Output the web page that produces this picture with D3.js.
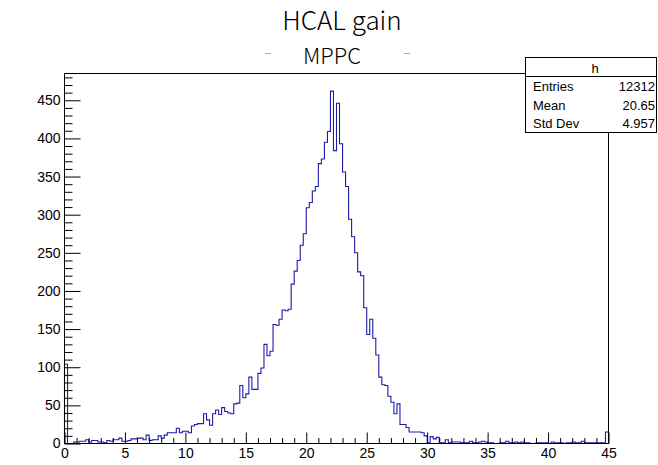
<!DOCTYPE html>
<html>
<head>
<meta charset="utf-8">
<script src="https://cdn.jsdelivr.net/npm/d3@7"></script>
<style>
  html, body { margin: 0; padding: 0; background: #fff; }
  svg { display: block; }
</style>
</head>
<body>
<svg id="chart" width="658" height="465"></svg>
<script>
// Histogram "h": 180 bins of width 0.25 on [0, 45]
const xMin = 0;
const xMax = 45;
const binWidth = 0.25;

// bin contents, low edge 0.00 ... 10.75
const countsLow = [
  104, 0, 0, 2, 2, 3, 3, 5, 2, 4,
  4, 2, 2, 1, 4, 3, 5, 5, 7, 3,
  3, 4, 6, 6, 7, 7, 5, 11, 4, 5,
  5, 10, 7, 11, 14, 14, 14, 20, 14, 16,
  16, 14, 23, 25, 26
];
// bin contents, low edge 11.25 ... 27.50
const countsPeak = [
  26, 39, 31, 24, 39, 44, 38, 47, 42, 40,
  39, 52, 53, 76, 60, 65, 87, 71, 71, 92,
  99, 130, 115, 121, 156, 155, 163, 175, 174, 176,
  209, 226, 240, 260, 275, 309, 316, 331, 337, 367,
  373, 395, 409, 462, 384, 446, 393, 356, 337, 294,
  271, 250, 225, 220, 178, 143, 163, 138, 116, 87,
  77, 76, 62, 54, 39, 52
];
// bin contents, low edge 27.75 ... 44.75
const countsHigh = [
  25, 25, 21, 15, 15, 15, 15, 14, 10, 1,
  9, 6, 8, 1, 1, 5, 1, 2, 2, 2,
  1, 1, 1, 3, 1, 1, 2, 3, 2, 1,
  1, 0, 0, 1, 1, 3, 1, 1, 2, 1,
  2, 1, 1, 0, 0, 1, 1, 1, 1, 0,
  2, 1, 1, 1, 0, 1, 1, 2, 1, 1,
  3, 1, 1, 1, 1, 1, 1, 1, 15
];
const counts = countsLow.concat(countsPeak, countsHigh);

const xTicks = [0, 5, 10, 15, 20, 25, 30, 35, 40, 45];
const yTicks = [0, 50, 100, 150, 200, 250, 300, 350, 400, 450];

const titleText = "HCAL gain";
const subtitleText = "MPPC";
const statsName = "h";
const statsLabels = ["Entries", "Mean", "Std Dev"];
const statsValues = ["12312", "20.65", "4.957"];

// ---- layout ----
const svg = d3.select("#chart");
const frame = { left: 64.5, right: 608.5, top: 73.5, bottom: 443.5 };
const yMax = d3.max(counts) * 1.05;

const x = d3.scaleLinear().domain([xMin, xMax]).range([frame.left, frame.right]);
const y = d3.scaleLinear().domain([0, yMax]).range([frame.bottom, frame.top]);

svg.append("rect").attr("width", 658).attr("height", 465).attr("fill", "#fff");

// titles
const titleFont = "'Noto Sans CJK JP', 'Noto Sans', sans-serif";
svg.append("text")
  .attr("x", 342).attr("y", 30)
  .attr("text-anchor", "middle")
  .attr("font-family", titleFont)
  .attr("font-weight", 300)
  .attr("font-size", 26)
  .attr("fill", "#000")
  .text(titleText);

svg.append("text")
  .attr("x", 332).attr("y", 64)
  .attr("text-anchor", "middle")
  .attr("font-family", titleFont)
  .attr("font-weight", 300)
  .attr("font-size", 22)
  .attr("fill", "#000")
  .text(subtitleText);

// faint marks either side of the subtitle
[[265, 271], [404, 410]].forEach(([a, b]) => {
  svg.append("line")
    .attr("x1", a).attr("x2", b).attr("y1", 53.5).attr("y2", 53.5)
    .attr("stroke", "#aaa").attr("stroke-width", 1);
});

// ---- histogram contour ----
const pts = [[xMin, 0]];
counts.forEach((c, i) => {
  const x0 = xMin + i * binWidth;
  pts.push([x0, c], [x0 + binWidth, c]);
});
pts.push([xMax, 0]);

svg.append("path")
  .datum(pts)
  .attr("fill", "none")
  .attr("stroke", "#1d1da8")
  .attr("stroke-width", 1.1)
  .attr("d", d3.line().x(d => x(d[0])).y(d => y(d[1])));

// ---- axes ----
const labelFont = "'Liberation Sans', Arial, Helvetica, sans-serif";

const yMinor = d3.range(0, yMax, 10).filter(v => v % 50 !== 0);
svg.append("g")
  .attr("transform", `translate(${frame.left},0)`)
  .call(d3.axisLeft(y).tickValues(yMinor).tickSizeInner(-8).tickSizeOuter(0).tickFormat(""))
  .call(g => g.select(".domain").remove());

svg.append("g")
  .attr("transform", `translate(${frame.left},0)`)
  .call(d3.axisLeft(y).tickValues(yTicks).tickSizeInner(-16).tickSizeOuter(0).tickPadding(4).tickFormat(d3.format("d")))
  .call(g => g.select(".domain").remove())
  .call(g => g.selectAll("text").attr("font-family", labelFont).attr("font-size", 14).attr("fill", "#000"));

const xMinor = d3.range(xMin, xMax + 0.001, 1).filter(v => v % 5 !== 0);
svg.append("g")
  .attr("transform", `translate(0,${frame.bottom})`)
  .call(d3.axisBottom(x).tickValues(xMinor).tickSizeInner(-5.5).tickSizeOuter(0).tickFormat(""))
  .call(g => g.select(".domain").remove());

svg.append("g")
  .attr("transform", `translate(0,${frame.bottom})`)
  .call(d3.axisBottom(x).tickValues(xTicks).tickSizeInner(-11).tickSizeOuter(0).tickPadding(5).tickFormat(d3.format("d")))
  .call(g => g.select(".domain").remove())
  .call(g => g.selectAll("text").attr("font-family", labelFont).attr("font-size", 14).attr("fill", "#000"));

// frame
svg.append("rect")
  .attr("x", frame.left).attr("y", frame.top)
  .attr("width", frame.right - frame.left).attr("height", frame.bottom - frame.top)
  .attr("fill", "none").attr("stroke", "#000").attr("stroke-width", 1);

// ---- statistics box ----
const box = { x: 525.5, y: 57.5, w: 131, h: 75, head: 19 };
const stats = svg.append("g");
stats.append("rect")
  .attr("x", box.x).attr("y", box.y).attr("width", box.w).attr("height", box.h)
  .attr("fill", "#fff").attr("stroke", "#000").attr("stroke-width", 1);
stats.append("line")
  .attr("x1", box.x).attr("x2", box.x + box.w)
  .attr("y1", box.y + box.head).attr("y2", box.y + box.head)
  .attr("stroke", "#000").attr("stroke-width", 1);
stats.append("text")
  .attr("x", 595).attr("y", 73)
  .attr("text-anchor", "middle")
  .attr("font-family", labelFont).attr("font-size", 13)
  .text(statsName);
const rowY = [91, 109.5, 128];
statsLabels.forEach((lab, i) => {
  stats.append("text")
    .attr("x", 533).attr("y", rowY[i])
    .attr("font-family", labelFont).attr("font-size", 13)
    .text(lab);
  stats.append("text")
    .attr("x", 655).attr("y", rowY[i])
    .attr("text-anchor", "end")
    .attr("font-family", labelFont).attr("font-size", 13)
    .text(statsValues[i]);
});
</script>
</body>
</html>
